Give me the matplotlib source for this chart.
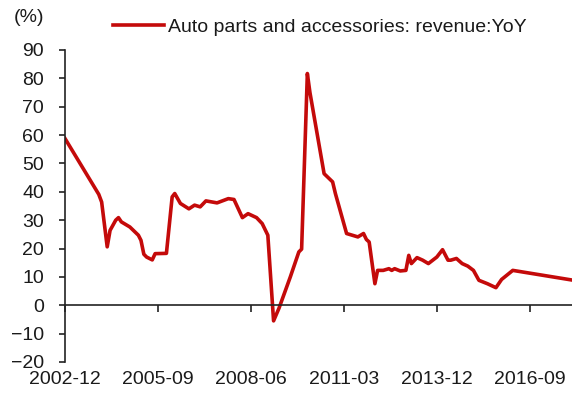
import numpy as np
import pandas as pd
import matplotlib
matplotlib.use("Agg")
import matplotlib.pyplot as plt
import matplotlib.dates as mdates

plt.rcParams['font.family'] = ['Liberation Sans', 'DejaVu Sans']

# monthly YoY growth of auto parts and accessories revenue (%)
months = ["2002-12", "2003-12", "2004-01", "2004-03", "2004-04", "2004-06", "2004-07",
          "2004-08", "2004-11", "2005-02", "2005-03", "2005-04", "2005-05", "2005-07",
          "2005-08", "2005-12", "2006-02", "2006-03", "2006-05", "2006-08", "2006-10",
          "2006-12", "2007-02", "2007-06", "2007-10", "2007-12", "2008-03", "2008-05",
          "2008-08", "2008-10", "2008-12", "2009-02", "2009-04", "2009-08", "2009-11",
          "2009-12", "2010-02", "2010-03", "2010-08", "2010-11", "2010-12", "2011-04",
          "2011-06", "2011-08", "2011-10", "2011-11", "2011-12", "2012-02", "2012-03",
          "2012-05", "2012-07", "2012-08", "2012-09", "2012-11", "2013-01", "2013-02",
          "2013-03", "2013-05", "2013-07", "2013-09", "2013-12", "2014-02", "2014-04",
          "2014-05", "2014-07", "2014-09", "2014-11", "2015-01", "2015-03", "2015-06",
          "2015-09", "2015-11", "2016-03", "2017-12"]
yoy = [58.8, 39.1, 36.4, 20.6, 26.4, 30.0, 30.9,
       29.4, 27.6, 24.7, 22.9, 18.0, 17.0, 16.0,
       18.2, 18.3, 38.2, 39.4, 35.9, 34.0, 35.3,
       34.7, 36.8, 36.1, 37.6, 37.3, 30.9, 32.3,
       30.9, 28.8, 24.7, -5.5, -1.0, 10.0, 18.8,
       19.8, 81.7, 75.0, 46.4, 43.5, 39.4, 25.3,
       24.7, 24.1, 25.3, 23.2, 22.3, 7.6, 12.3,
       12.3, 12.9, 12.3, 12.9, 12.1, 12.3, 17.6,
       14.7, 16.8, 15.9, 14.7, 17.0, 19.6, 15.9,
       15.9, 16.5, 14.7, 13.8, 12.3, 8.8, 7.6,
       6.2, 9.1, 12.3, 8.9]
tick_months = ["2002-12", "2005-09", "2008-06", "2011-03", "2013-12", "2016-09"]
y_ticks = list(range(-20, 91, 10))

dates = pd.to_datetime(months)
tick_dates = pd.to_datetime(tick_months)

fig = plt.figure(figsize=(5.72, 3.94), dpi=100)
ax = fig.add_axes([65 / 572, 32 / 394, 507 / 572, 312 / 394])

red = '#C40A0A'
txt = '#1a1a1a'
ax.plot(dates, yoy, color=red, lw=2.6, label='Auto parts and accessories: revenue:YoY')

ax.set_ylim(-20, 90)
ax.set_yticks(y_ticks)
ax.set_xlim(dates[0], pd.Timestamp("2017-12-01"))
ax.set_xticks(tick_dates)
ax.xaxis.set_major_formatter(mdates.DateFormatter('%Y-%m'))

for s in ['top', 'right']:
    ax.spines[s].set_visible(False)
ax.spines['bottom'].set_position(('data', 0))
for s in ['left', 'bottom']:
    ax.spines[s].set_color('#222222')
    ax.spines[s].set_linewidth(1.2)

ax.tick_params(axis='y', direction='out', length=4, width=1.2, pad=11,
               labelsize=14, colors='#222222', labelcolor=txt)
ax.tick_params(axis='x', direction='out', length=5, width=1.2, pad=42,
               labelsize=14, colors='#222222', labelcolor=txt)

fig.text(14 / 572, 1 - 18 / 394, '(%)', fontsize=14, color=txt, va='center', ha='left')
fig.legend(loc='center left', bbox_to_anchor=(113 / 572, 1 - 27 / 394),
           frameon=False, borderpad=0, borderaxespad=0, handlelength=2.6,
           handletextpad=0.25, fontsize=14, labelcolor=txt)

fig.savefig('out.png', dpi=100)
